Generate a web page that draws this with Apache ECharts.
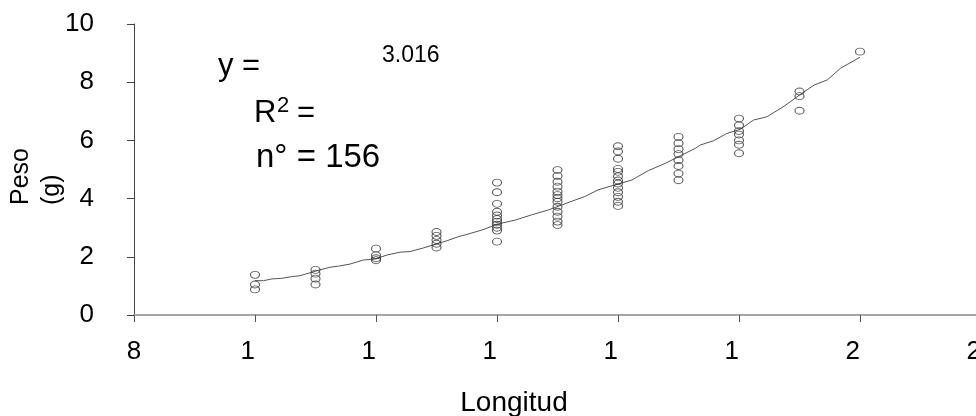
<!DOCTYPE html>
<html>
<head>
<meta charset="utf-8">
<script src="https://cdn.jsdelivr.net/npm/echarts@6/dist/echarts.min.js"></script>
<style>html,body{margin:0;padding:0;background:#fff}#c{width:976px;height:416px}</style>
</head>
<body>
<div id="c"></div>
<script>
// Column x values (Longitud)
const lengths = [10, 11, 12, 13, 14, 15, 16, 17, 18, 19, 20];
// Observed weights per length column (Peso)
const w10 = [1.38, 1.05, 0.88];
const w11 = [1.55, 1.42, 1.25, 1.05];
const w12 = [2.28, 2.05, 1.95, 1.88];
const w13 = [2.85, 2.72, 2.58, 2.45, 2.32];
const w14 = [4.55, 4.22, 3.82, 3.55, 3.42, 3.30, 3.20, 3.10, 3.00, 2.90, 2.52];
const w15 = [4.98, 4.78, 4.58, 4.41, 4.24, 4.12, 4.01, 3.89, 3.72, 3.55, 3.38, 3.21, 3.09];
const w16 = [5.80, 5.62, 5.37, 5.02, 4.92, 4.77, 4.62, 4.52, 4.37, 4.22, 4.06, 3.89, 3.75];
const w17 = [6.12, 5.90, 5.70, 5.53, 5.32, 5.12, 4.86, 4.63];
const w18 = [6.75, 6.52, 6.32, 6.20, 6.00, 5.85, 5.56];
const w19 = [7.68, 7.52, 7.02];
const w20 = [9.05];
const weightColumns = [w10, w11, w12, w13, w14, w15, w16, w17, w18, w19, w20];

// Fitted curve
const fitX = [10.00, 10.14, 10.28, 10.44, 10.61, 10.74, 10.91, 11.07, 11.24, 11.38, 11.57, 11.79, 11.98, 12.18, 12.40, 12.56, 12.76, 12.95, 13.17, 13.39, 13.47, 13.75, 14.02, 14.30, 14.57, 14.85, 15.07, 15.29, 15.45, 15.67, 15.95, 16.23, 16.50, 16.78, 17.00, 17.28, 17.36, 17.58, 17.80, 18.02, 18.24, 18.46, 18.75, 19.00, 19.24, 19.46, 19.68, 20.00];
const fitY = [1.18, 1.18, 1.24, 1.26, 1.32, 1.35, 1.45, 1.55, 1.64, 1.68, 1.75, 1.89, 1.92, 2.06, 2.16, 2.18, 2.29, 2.41, 2.55, 2.71, 2.75, 2.92, 3.13, 3.26, 3.44, 3.61, 3.78, 3.95, 4.07, 4.30, 4.47, 4.64, 4.96, 5.21, 5.44, 5.73, 5.84, 5.99, 6.24, 6.38, 6.70, 6.81, 7.18, 7.56, 7.90, 8.08, 8.48, 8.86];

// Axis tick values
const xTickValues = [8, 10, 12, 14, 16, 18, 20, 22];
const yTickValues = [0, 2, 4, 6, 8, 10];

const scatterData = [];
lengths.forEach((x, i) => weightColumns[i].forEach(y => scatterData.push([x, y])));
const fitData = fitX.map((x, i) => [x, fitY[i]]);

const FONT = 'Liberation Sans, Arial, sans-serif';
const chart = echarts.init(document.getElementById('c'), null, {renderer: 'canvas'});
chart.setOption({
  animation: false,
  backgroundColor: '#fff',
  grid: {left: 134, right: -5, top: 24, bottom: 101, containLabel: false, outerBoundsMode: 'none'},
  xAxis: {
    type: 'value', min: xTickValues[0], max: xTickValues[xTickValues.length - 1], interval: 2,
    splitLine: {show: false},
    axisLine: {show: true, onZero: false, lineStyle: {color: '#a6a6a6', width: 2}},
    axisTick: {show: true, length: 7, lineStyle: {color: '#555', width: 1}},
    axisLabel: {
      margin: 24, color: '#000', fontFamily: FONT, fontSize: 26,
      showMaxLabel: true, showMinLabel: true, hideOverlap: false,
      formatter: function (v) {
        const s = String(v);
        return s.length > 1 ? '{w|' + s[0] + '}' : '{n|' + s + '}';
      },
      rich: {
        w: {width: 29, align: 'left', fontSize: 26, fontFamily: FONT, color: '#000'},
        n: {fontSize: 26, fontFamily: FONT, color: '#000'}
      }
    }
  },
  yAxis: {
    type: 'value', min: yTickValues[0], max: yTickValues[yTickValues.length - 1], interval: 2,
    splitLine: {show: false},
    axisLine: {show: true, lineStyle: {color: '#444', width: 1}},
    axisTick: {show: true, length: 7, lineStyle: {color: '#444', width: 1}},
    axisLabel: {margin: 40, color: '#000', fontFamily: FONT, fontSize: 26}
  },
  series: [
    {
      type: 'line', data: fitData, showSymbol: false, smooth: false,
      lineStyle: {color: '#555', width: 1}, z: 2
    },
    {
      type: 'scatter', data: scatterData, symbol: 'circle', symbolSize: [9, 7],
      itemStyle: {color: 'rgba(0,0,0,0)', borderColor: '#333', borderWidth: 1}, z: 3
    }
  ],
  graphic: [
    {type: 'text', x: 6, y: 205, rotation: Math.PI / 2,
     style: {text: 'Peso\n(g)', font: '25px ' + FONT, fill: '#000', align: 'left', verticalAlign: 'top', lineHeight: 31}},
    {type: 'text', x: 514, y: 403,
     style: {text: 'Longitud', font: '28px ' + FONT, fill: '#000', align: 'center', verticalAlign: 'middle'}},
    {type: 'text', x: 218, y: 66,
     style: {text: 'y =', font: '31px ' + FONT, fill: '#000', align: 'left', verticalAlign: 'middle'}},
    {type: 'text', x: 382, y: 56,
     style: {text: '3.016', font: '23px ' + FONT, fill: '#000', align: 'left', verticalAlign: 'middle'}},
    {type: 'text', x: 254, y: 113,
     style: {text: 'R', font: '31px ' + FONT, fill: '#000', align: 'left', verticalAlign: 'middle'}},
    {type: 'text', x: 277, y: 106,
     style: {text: '2', font: '22px ' + FONT, fill: '#000', align: 'left', verticalAlign: 'middle'}},
    {type: 'text', x: 297, y: 113,
     style: {text: '=', font: '31px ' + FONT, fill: '#000', align: 'left', verticalAlign: 'middle'}},
    {type: 'text', x: 256, y: 158,
     style: {text: 'n° = 156', font: '33px ' + FONT, fill: '#000', align: 'left', verticalAlign: 'middle'}}
  ]
});
</script>
</body>
</html>
